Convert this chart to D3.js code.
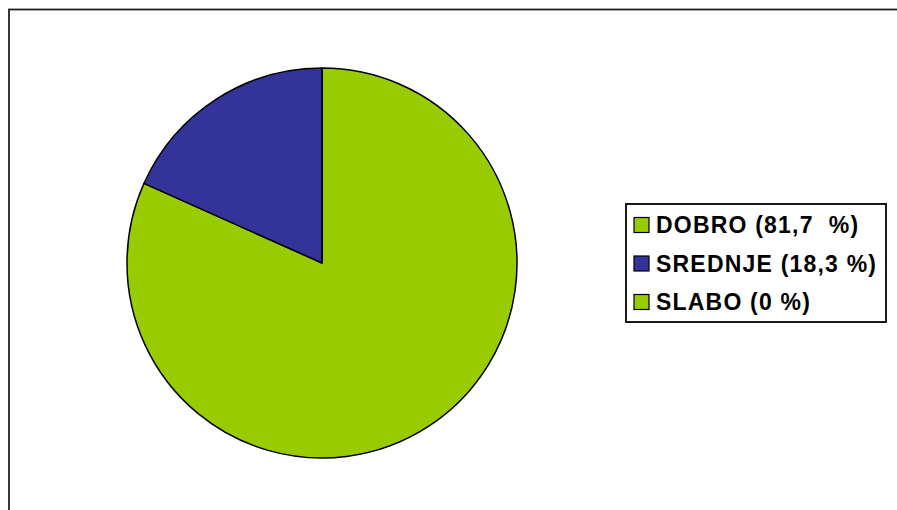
<!DOCTYPE html>
<html>
<head>
<meta charset="utf-8">
<script src="https://cdn.jsdelivr.net/npm/d3@7"></script>
<style>
  body { margin: 0; background: #fff; }
  svg { display: block; }
  .legend text { font-family: "Liberation Sans", Arial, sans-serif; font-weight: bold; font-size: 23px; letter-spacing: 1.2px; }
</style>
</head>
<body>
<svg id="chart" width="897" height="510"></svg>
<script>
var categories = ["DOBRO", "SREDNJE", "SLABO"],
    values = [81.7, 18.3, 0],
    labels = ["DOBRO (81,7  %)", "SREDNJE (18,3 %)", "SLABO (0 %)"],
    colors = ["#99cc00", "#333399", "#99cc00"];

var svg = d3.select("#chart");

// outer chart frame (runs off the right and bottom edge)
svg.append("rect")
    .attr("x", 9)
    .attr("y", 9.5)
    .attr("width", 1000)
    .attr("height", 1000)
    .attr("fill", "none")
    .attr("stroke", "#222")
    .attr("stroke-width", 1.8);

var cx = 322, cy = 263, radius = 195;

var pie = d3.pie()
    .sort(null)
    .value(function(d) { return d; });

var arc = d3.arc()
    .innerRadius(0)
    .outerRadius(radius);

var g = svg.append("g")
    .attr("transform", "translate(" + cx + "," + cy + ")");

g.selectAll("path")
    .data(pie(values).filter(function(d) { return d.data > 0; }))
    .enter().append("path")
    .attr("d", arc)
    .attr("fill", function(d) { return colors[d.index]; })
    .attr("stroke", "#000")
    .attr("stroke-width", 1.5)
    .attr("stroke-linejoin", "round");

// legend
var legend = svg.append("g").attr("class", "legend");

legend.append("rect")
    .attr("x", 626)
    .attr("y", 204)
    .attr("width", 260)
    .attr("height", 118)
    .attr("fill", "#fff")
    .attr("stroke", "#000")
    .attr("stroke-width", 1.8);

var y = d3.scalePoint()
    .domain(categories)
    .range([225, 302]);

var item = legend.selectAll(".item")
    .data(categories)
    .enter().append("g")
    .attr("class", "item")
    .attr("transform", function(d) { return "translate(0," + y(d) + ")"; });

item.append("rect")
    .attr("x", 634)
    .attr("y", -7.5)
    .attr("width", 15)
    .attr("height", 15)
    .attr("fill", function(d, i) { return colors[i]; })
    .attr("stroke", "#000")
    .attr("stroke-width", 1.2);

item.append("text")
    .attr("x", 656)
    .attr("dy", "0.36em")
    .attr("xml:space", "preserve")
    .style("white-space", "pre")
    .text(function(d, i) { return labels[i]; });
</script>
</body>
</html>
